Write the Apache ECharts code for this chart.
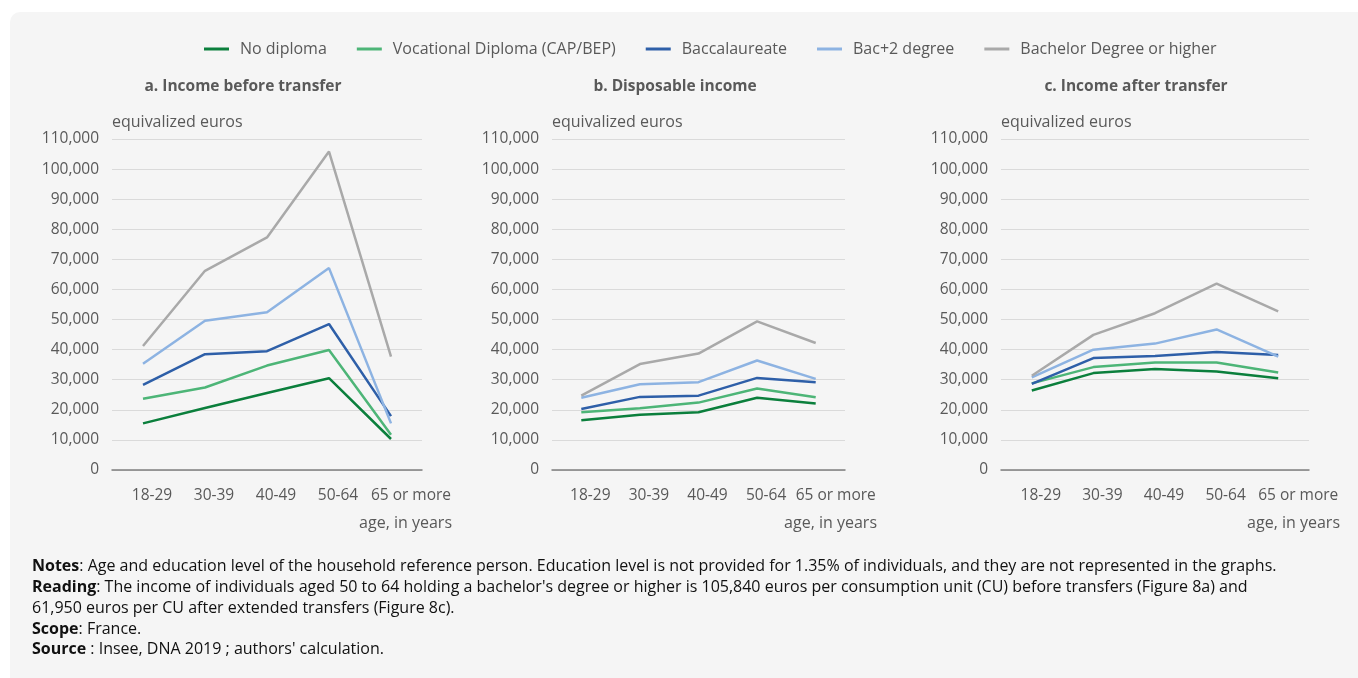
<!DOCTYPE html>
<html>
<head>
<meta charset="utf-8">
<script src="https://cdn.jsdelivr.net/npm/echarts@6/dist/echarts.min.js"></script>
<style>
html,body{margin:0;padding:0;background:#ffffff;}
#chart{width:1358px;height:678px;}
</style>
</head>
<body>
<div id="chart"></div>
<script>
// ---- Data ----
const categories = ['18-29', '30-39', '40-49', '50-64', '65 or more'];
const seriesNames = ['No diploma', 'Vocational Diploma (CAP/BEP)', 'Baccalaureate', 'Bac+2 degree', 'Bachelor Degree or higher'];
const panelTitles = ['a. Income before transfer', 'b. Disposable income', 'c. Income after transfer'];
const yTicks = [0, 10000, 20000, 30000, 40000, 50000, 60000, 70000, 80000, 90000, 100000, 110000];

// a. Income before transfer
const before_noDiploma  = [15500, 20600, 25600, 30500, 10300];
const before_vocational = [23700, 27400, 34700, 39900, 11700];
const before_bac        = [28300, 38500, 39500, 48500, 17900];
const before_bac2       = [35300, 49600, 52400, 67100, 15500];
const before_bachelor   = [41200, 66200, 77300, 105840, 37700];

// b. Disposable income
const disp_noDiploma  = [16500, 18400, 19200, 24000, 22100];
const disp_vocational = [19200, 20500, 22400, 27100, 24200];
const disp_bac        = [20300, 24300, 24700, 30600, 29200];
const disp_bac2       = [24000, 28500, 29200, 36400, 30300];
const disp_bachelor   = [24700, 35200, 38700, 49400, 42200];

// c. Income after transfer
const after_noDiploma  = [26400, 32200, 33600, 32700, 30500];
const after_vocational = [28800, 34200, 35700, 35700, 32400];
const after_bac        = [28600, 37200, 37900, 39200, 38200];
const after_bac2       = [30800, 40000, 42000, 46700, 37700];
const after_bachelor   = [31300, 44900, 52100, 61950, 52700];

const colors = ['#0b7f3c', '#4db577', '#2e5fa8', '#8db3e2', '#a9a9a9'];

// ---- Layout ----
const FONT = 'Open Sans';
const TXT = '#595959';
const grids = [
  {left: 112, right: 936, top: 139, bottom: 208},
  {left: 552, right: 513, top: 139, bottom: 208},
  {left: 1001, right: 49, top: 139, bottom: 208}
];
const titleX = [243, 675, 1136];
const xNameRight = [452, 877, 1340];
const panels = [
  [before_noDiploma, before_vocational, before_bac, before_bac2, before_bachelor],
  [disp_noDiploma, disp_vocational, disp_bac, disp_bac2, disp_bachelor],
  [after_noDiploma, after_vocational, after_bac, after_bac2, after_bachelor]
];

const xAxes = grids.map((g, i) => ({
  type: 'category', gridIndex: i, data: categories, boundaryGap: true,
  axisLine: {show: true, lineStyle: {color: '#7f7f7f', width: 1.5}},
  axisTick: {show: false},
  axisLabel: {
    interval: 0, margin: 18, color: TXT, fontFamily: FONT, fontSize: 15.5,
    formatter: (v, idx) => idx === categories.length - 1 ? '{l|' + v + '}' : '{n|' + v + '}',
    rich: {
      n: {padding: [0, 0, 0, 18], color: TXT, fontFamily: FONT, fontSize: 15.5},
      l: {padding: [0, 0, 0, 40], color: TXT, fontFamily: FONT, fontSize: 15.5}
    }
  }
}));

const yAxes = grids.map((g, i) => ({
  type: 'value', gridIndex: i, min: yTicks[0], max: yTicks[yTicks.length - 1], interval: 10000,
  name: 'equivalized euros', nameLocation: 'end', nameGap: 9,
  nameTextStyle: {align: 'left', color: TXT, fontFamily: FONT, fontSize: 16},
  axisLine: {show: false}, axisTick: {show: false},
  splitLine: {lineStyle: {color: '#dadada', width: 1}},
  axisLabel: {margin: 13, color: TXT, fontFamily: FONT, fontSize: 15.5,
    formatter: v => v.toLocaleString('en-US')}
}));

const series = [];
panels.forEach((pData, pi) => {
  pData.forEach((arr, si) => {
    series.push({
      name: seriesNames[si], type: 'line', xAxisIndex: pi, yAxisIndex: pi,
      data: arr, symbol: 'none', smooth: false,
      lineStyle: {color: colors[si], width: 2.5},
      itemStyle: {color: colors[si]}, z: 2 + si
    });
  });
});

const graphics = [
  {type: 'rect', z: -10, silent: true, shape: {x: 10, y: 12, width: 1370, height: 700, r: 10}, style: {fill: '#f5f5f5'}}
];
panelTitles.forEach((t, i) => {
  graphics.push({type: 'text', x: titleX[i], y: 86.5, style: {text: t, fill: TXT, font: 'bold 15.5px "Open Sans"', textAlign: 'center', textVerticalAlign: 'middle'}});
  graphics.push({type: 'text', x: xNameRight[i], y: 523, style: {text: 'age, in years', fill: TXT, font: '16px "Open Sans"', textAlign: 'right', textVerticalAlign: 'middle'}});
});

const notes = [
  ['Notes', ': Age and education level of the household reference person. Education level is not provided for 1.35% of individuals, and they are not represented in the graphs.'],
  ['Reading', ': The income of individuals aged 50 to 64 holding a bachelor\'s degree or higher is 105,840 euros per consumption unit (CU) before transfers (Figure 8a) and'],
  ['', '61,950 euros per CU after extended transfers (Figure 8c).'],
  ['Scope', ': France.'],
  ['Source', ' : Insee, DNA 2019 ; authors\' calculation.']
];
const noteY = [566, 587, 608, 629, 649];
notes.forEach((n, i) => {
  graphics.push({type: 'text', x: 32, y: noteY[i], style: {
    text: (n[0] ? '{b|' + n[0] + '}' : '') + '{r|' + n[1] + '}',
    textVerticalAlign: 'middle',
    rich: {
      b: {fontFamily: FONT, fontSize: 16, fontWeight: 'bold', fill: '#111', color: '#111'},
      r: {fontFamily: FONT, fontSize: 16, fill: '#111', color: '#111'}
    }
  }});
});

const chart = echarts.init(document.getElementById('chart'), null, {renderer: 'canvas'});
chart.setOption({
  backgroundColor: '#ffffff',
  animation: false,
  color: colors,
  textStyle: {fontFamily: FONT},
  legend: {
    left: 199, top: 36, itemWidth: 25, itemHeight: 3, itemGap: 30, icon: 'rect',
    data: seriesNames,
    textStyle: {color: TXT, fontFamily: FONT, fontSize: 16, padding: [0, 0, 0, 6]}
  },
  grid: grids,
  xAxis: xAxes,
  yAxis: yAxes,
  series: series,
  graphic: graphics
});
</script>
</body>
</html>
